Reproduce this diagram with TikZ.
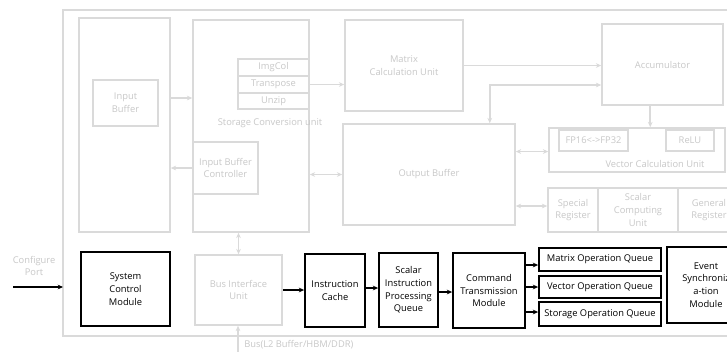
\documentclass[tikz,border=0pt]{standalone}
\usepackage{fontspec}
\setmainfont{Open Sans}
\usetikzlibrary{arrows.meta,calc}
\definecolor{lgray}{RGB}{218,218,218}
\definecolor{tgray}{RGB}{200,200,200}
\tikzset{
  sz/.style 2 args={minimum width=#1*0.75pt, minimum height=#2*0.75pt},
  gbox/.style={draw=lgray, line width=1.2pt, text=tgray, align=center, inner sep=0pt, font=\fontsize{7}{9.6}\selectfont},
  gthin/.style={gbox, line width=0.8pt},
  bbox/.style={draw=black, line width=1.3pt, align=center, inner sep=0pt, font=\fontsize{7}{9.6}\selectfont},
  glabel/.style={text=tgray, inner sep=0pt, align=center, font=\fontsize{7}{9.6}\selectfont},
  garrow/.style={draw=lgray, line width=1.2pt, -{Stealth[length=4pt,width=3.5pt]}},
  gdarrow/.style={draw=lgray, line width=1.2pt, {Stealth[length=4pt,width=3.5pt]}-{Stealth[length=4pt,width=3.5pt]}},
  barrow/.style={draw=black, line width=1pt, -{Stealth[length=4pt,width=3.5pt]}},
}
\begin{document}
\begin{tikzpicture}[x=0.75pt,y=0.75pt,yscale=-1,xscale=1]
\useasboundingbox (0,0) rectangle (727,351);
\clip (0,0) rectangle (727,351);
\fill[white] (0,0) rectangle (727,351);
%Core frame
\draw [lgray, line width=1.2pt] (63,10) rectangle (760,336);
\coordinate (core) at (63,287);
%Upper part
\node [gbox, sz={91}{214}] (ibo) at (124.5,125) {};
\node [gthin, sz={65}{46}] (ib) at (125.5,103) {Input\\Buffer};
\node [gbox, sz={116}{212}] (scu) at (251,126) {};
\node [gthin, sz={71}{17}] (imgcol) at (273.5,67.5) {ImgCol};
\node [gthin, sz={71}{17}] (transpose) at (273.5,84.5) {Transpose};
\node [gthin, sz={71}{16}] (unzip) at (273.5,101) {Unzip};
\node [glabel] (scul) at (270,123) {Storage Conversion unit};
\node [gbox, sz={65}{52}, fill=white] (ibc) at (225.5,168) {Input Buffer\\Controller};
\node [gbox, sz={118}{91}] (matrix) at (404,65.5) {Matrix\\Calculation Unit};
\node [gbox, sz={172}{101}] (outbuf) at (429,174.5) {Output Buffer};
\node [gbox, sz={121}{81}] (acc) at (662.5,64.5) {Accumulator};
\node [gbox, sz={176}{44}] (vcu) at (637,150) {};
\node [gthin, sz={69}{21}] (fp) at (593.5,140.5) {FP16<->FP32};
\node [gthin, sz={48}{21}] (relu) at (690,140.5) {ReLU};
\node [glabel] (vcul) at (655,164) {Vector Calculation Unit};
\node [gthin, sz={80}{44}] (scalar) at (638,210) {Scalar\\Computing\\Unit};
\node [gbox, sz={50}{44}] (spreg) at (573,210) {Special\\Register};
\node [gbox, sz={62}{44}] (genreg) at (709,210) {General\\Register};
%Lower part
\node [glabel] (cfg) at (34,266) {Configure\\Port};
\coordinate (cfgin) at (13,287);
\node [bbox, sz={89}{74}] (sysctl) at (125.5,289) {System\\Control\\Module};
\node [gbox, sz={87}{70}] (biu) at (238.5,290) {Bus Interface\\Unit};
\node [bbox, sz={60}{73}] (icache) at (335,290.5) {Instruction\\Cache};
\node [bbox, sz={59}{74}] (sipq) at (408.5,290) {Scalar\\Instruction\\Processing\\Queue};
\node [bbox, sz={72}{75}] (ctm) at (489,290.5) {Command\\Transmission\\Module};
\node [bbox, sz={122}{23}] (moq) at (600,259.5) {Matrix Operation Queue};
\node [bbox, sz={122}{22}] (voq) at (600,287) {Vector Operation Queue};
\node [bbox, sz={122}{24}] (soq) at (600,314) {Storage Operation Queue};
\node [bbox, sz={78}{76}] (esm) at (706,285) {Event\\Synchroniz\\a-tion\\Module};
\coordinate (busin) at (238,352);
\node [glabel, anchor=west] (bus) at (244,345) {Bus(L2 Buffer/HBM/DDR)};
%Gray connectors
\draw [garrow] (ibo.east |- 0,98) -- (scu.west |- 0,98);
\draw [garrow] (ibc.west) -- (ibo.east |- ibc.west);
\draw [garrow] (transpose.east) -- (matrix.west |- transpose.east);
\draw [gdarrow] (scu.east |- outbuf) -- (outbuf.west);
\draw [garrow] (matrix.east) -- (acc.west |- matrix.east);
\draw [gdarrow] ($(outbuf.north west)!0.85!(outbuf.north east)$) |- (acc.west |- 0,85);
\draw [garrow] ($(acc.south west)!0.4!(acc.south east)$) coordinate (acs) -- (acs |- vcu.north);
\draw [gdarrow] (outbuf.east |- fp.south) -- (vcu.west |- fp.south);
\draw [gdarrow] (outbuf.east |- 0,206) -- (spreg.west |- 0,206);
\draw [gdarrow] (biu.north) -- (biu.north |- scu.south);
\draw [garrow] (busin) -- (busin |- biu.south);
%Black connectors
\draw [barrow] (cfgin) -- (core);
\draw [barrow] (biu.east) -- (icache.west |- biu.east);
\draw [barrow] (icache.east |- 0,288) -- (sipq.west |- 0,288);
\draw [barrow] (sipq.east |- 0,292) -- (ctm.west |- 0,292);
\draw [barrow] (ctm.east |- 0,265) -- (moq.west |- 0,265);
\draw [barrow] (ctm.east |- voq) -- (voq.west);
\draw [barrow] (ctm.east |- 0,312) -- (soq.west |- 0,312);
\end{tikzpicture}
\end{document}
